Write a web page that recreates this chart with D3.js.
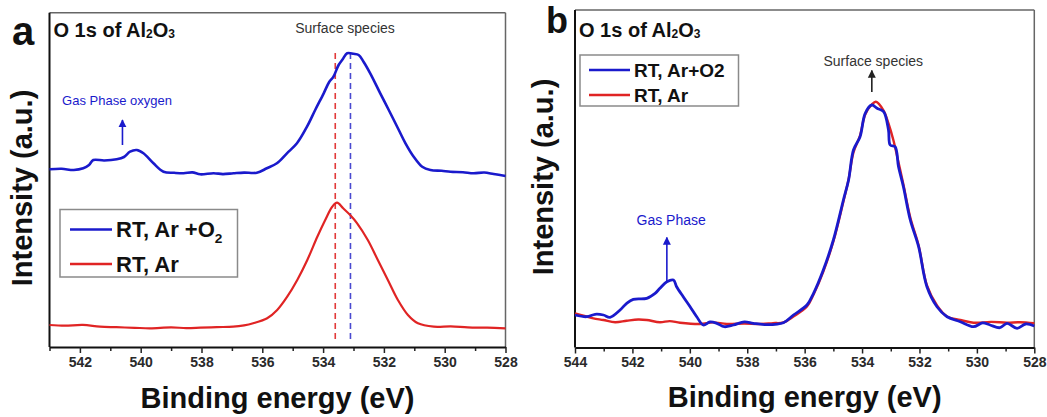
<!DOCTYPE html>
<html>
<head>
<meta charset="utf-8">
<script src="https://cdn.jsdelivr.net/npm/d3@7"></script>
<style>
  body { margin: 0; background: #fff; }
  svg text { font-family: "Liberation Sans", Arial, sans-serif; }
</style>
</head>
<body>
<svg id="chart" width="1047" height="417"></svg>
<script>
// O 1s XPS of Al2O3, two panels. Intensities are arbitrary units.

// panel a: Ar + O2 (offset upward)
var aBlueE = [543.0, 542.6, 542.2, 541.89, 541.7, 541.56, 541.2, 540.79, 540.55, 540.35, 540.13, 539.91, 539.58, 539.25,
              538.9, 538.59, 538.3, 538.04, 537.6, 537.3, 536.95, 536.6, 536.18, 535.85, 535.52, 535.19, 534.86,
              534.53, 534.26, 533.98, 533.8, 533.66, 533.49, 533.35, 533.21, 533.0, 532.83, 532.67, 532.45, 532.12,
              531.84, 531.51, 531.29, 531.02, 530.74, 530.47, 530.1, 529.81, 529.4, 529.05, 528.7, 528.39, 528.0];
var aBlueI = [177.7, 178.2, 177.0, 178.7, 182, 187, 186.5, 187.7, 190, 195.3, 197, 193.7, 183.7, 175.3,
              174.2, 173.7, 174.6, 172.7, 173.8, 172.9, 173.7, 174.4, 174.3, 178.7, 183.7, 193.7, 203.7,
              220.3, 237, 253.7, 265, 270.3, 282, 288, 293.7, 293.2, 292, 285.3, 273.7, 253.7,
              237, 217, 203.7, 190.3, 180.3, 177, 176.2, 175.3, 174.8, 173.7, 174.5, 173, 171];

// panel a: Ar only
var aRedE = [543.0, 542.5, 541.9, 541.34, 540.8, 540.2, 539.69, 539.0, 538.5, 538.04, 537.5, 536.96, 536.6, 536.30,
             535.84, 535.51, 535.18, 534.85, 534.52, 534.19, 533.93, 533.70, 533.54, 533.34, 533.11, 532.88,
             532.53, 532.20, 531.87, 531.54, 531.21, 530.88, 530.36, 529.8, 529.24, 528.6, 528.0];
var aRedI = [22, 21.3, 22.1, 20.3, 19.8, 19.2, 18.7, 19.6, 18.9, 19.3, 19.9, 20.3, 21.6, 23.7,
             28.7, 37, 50.3, 67, 87, 110.3, 127, 140.3, 144.3, 138.7, 132, 123.7,
             107, 87, 67, 47, 32, 23.7, 20.3, 20.6, 19.7, 19.3, 18.7];

// panel b: Ar + O2
var bBlueE = [544.0, 543.59, 543.3, 543.01, 542.78, 542.43, 542.20, 541.97, 541.50, 541.21, 541.04, 540.80, 540.57,
              540.46, 540.23, 539.99, 539.76, 539.53, 539.3, 539.06, 538.8, 538.48, 538.1, 537.79, 537.3, 536.74,
              536.39, 535.92, 535.69, 535.35, 535.00, 534.65, 534.47, 534.30, 534.07, 533.89, 533.66, 533.48,
              533.25, 533.08, 533.02, 532.85, 532.73, 532.56, 532.32, 532.03, 531.74, 531.39, 531.04, 530.58,
              530.12, 529.8, 529.54, 529.2, 528.95, 528.60, 528.3, 528.0];
var bBlueI = [32.5, 30.8, 33.2, 32.5, 30.2, 37.5, 44.2, 48.2, 49.2, 54.2, 59.2, 65.8, 67.5,
              60.8, 50.8, 40.8, 30.8, 22.5, 25.5, 24.2, 20.8, 22.5, 25.6, 24.2, 22.8, 24.8,
              32.5, 42.5, 54.2, 77.5, 107.5, 147.5, 167.5, 197.5, 210.8, 234.2, 242.5, 239.2,
              235.8, 217.5, 202.5, 200.8, 180.8, 160.8, 127.5, 100.8, 60.8, 40.8, 30.8, 25.8,
              20.8, 24.6, 22.5, 19.8, 24.2, 19.2, 23.5, 21.5];

// panel b: Ar only
var bRedE = [544.0, 543.6, 543.36, 543.01, 542.6, 542.20, 541.8, 541.50, 541.04, 540.7, 540.34, 539.64, 539.2, 538.71,
             538.1, 537.55, 537.1, 536.74, 536.39, 535.92, 535.69, 535.35, 535.00, 534.65, 534.47, 534.30, 534.07,
             533.89, 533.66, 533.52, 533.25, 533.08, 532.91, 532.73, 532.56, 532.32, 532.03, 531.74, 531.39,
             531.04, 530.58, 530.12, 529.5, 528.95, 528.5, 528.0];
var bRedI = [34.2, 31.0, 29.2, 27.5, 25.3, 26.8, 28.0, 27.5, 25.2, 26.4, 24.8, 23.5, 25.1, 23.5,
             24.0, 23.5, 24.4, 25, 31, 41, 53, 76, 106, 146, 168, 195, 212,
             233, 243, 245.8, 237, 224, 207.5, 185, 163, 130, 102, 62, 42,
             31, 27.5, 24.8, 25.6, 24.8, 25.3, 24.2];

var xTicksA = [542, 540, 538, 536, 534, 532, 530, 528];
var xTicksB = [544, 542, 540, 538, 536, 534, 532, 530, 528];
var legendA = ["RT, Ar +O", "RT, Ar"];
var legendB = ["RT, Ar+O2", "RT, Ar"];
var dashA = [533.6, 533.1];   // red / blue peak positions in panel a

var BLUE = "#1a1acc", RED = "#e02424";
var svg = d3.select("#chart");

var defs = svg.append("defs");
[["arrBlue", BLUE], ["arrBlack", "#222"]].forEach(function (m) {
  defs.append("marker").attr("id", m[0]).attr("viewBox", "0 0 10 10")
    .attr("refX", 9).attr("refY", 5).attr("markerWidth", 5).attr("markerHeight", 6)
    .attr("orient", "auto")
    .append("path").attr("d", "M0,0 L10,5 L0,10 z").attr("fill", m[1]);
});

function series(e, i) { return e.map(function (d, k) { return [d, i[k]]; }); }

function drawPanel(p) {
  var x = d3.scaleLinear().domain(p.xDomain).range([p.left, p.right]);
  var y = d3.scaleLinear().domain(p.yDomain).range([p.bottom, p.top]);
  var g = svg.append("g");

  // frame: top/right gray, left/bottom black
  g.append("line").attr("x1", p.left).attr("x2", p.right).attr("y1", p.top).attr("y2", p.top)
    .attr("stroke", "#666").attr("stroke-width", 1.5);
  g.append("line").attr("x1", p.right).attr("x2", p.right).attr("y1", p.top).attr("y2", p.bottom)
    .attr("stroke", "#666").attr("stroke-width", 1.5);

  // minor ticks
  var minor = d3.range(Math.ceil(p.xDomain[1]), Math.floor(p.xDomain[0]) + 1)
    .filter(function (v) { return v % 2 !== 0; });
  var gm = g.append("g").attr("transform", "translate(0," + p.bottom + ")")
    .call(d3.axisBottom(x).tickValues(minor).tickSize(4).tickFormat(""));
  gm.select(".domain").remove();
  gm.selectAll("line").attr("stroke", "#222").attr("stroke-width", 1.5);

  var gx = g.append("g").attr("transform", "translate(0," + p.bottom + ")")
    .call(d3.axisBottom(x).tickValues(p.ticks).tickSize(6).tickSizeOuter(0).tickPadding(4).tickFormat(d3.format("d")));
  gx.select(".domain").attr("stroke", "#111").attr("stroke-width", 2);
  gx.selectAll("line").attr("stroke", "#222").attr("stroke-width", 1.5);
  gx.selectAll("text").attr("font-size", 14).attr("font-weight", "bold").attr("fill", "#2a2a2a");

  g.append("line").attr("x1", p.left).attr("x2", p.left).attr("y1", p.top).attr("y2", p.bottom)
    .attr("stroke", "#111").attr("stroke-width", 2);

  // dashed peak markers
  (p.dashes || []).forEach(function (d) {
    g.append("line").attr("x1", x(d.e)).attr("x2", x(d.e)).attr("y1", y(d.from)).attr("y2", y(d.to))
      .attr("stroke", d.color).attr("stroke-width", 1.6).attr("stroke-dasharray", "6,4");
  });

  var line = d3.line().x(function (d) { return x(d[0]); }).y(function (d) { return y(d[1]); })
    .curve(d3.curveCatmullRom.alpha(0.5));
  p.lines.forEach(function (s) {
    g.append("path").datum(s.data).attr("d", line).attr("fill", "none")
      .attr("stroke", s.color).attr("stroke-width", s.width).attr("stroke-linejoin", "round");
  });

  // annotations
  p.notes.forEach(function (n) {
    g.append("text").attr("x", x(n.e)).attr("y", y(n.i)).attr("text-anchor", "middle")
      .attr("font-size", n.size).attr("fill", n.color).text(n.text);
  });
  p.arrows.forEach(function (a) {
    g.append("line").attr("x1", x(a.e)).attr("x2", x(a.e)).attr("y1", y(a.from)).attr("y2", y(a.to))
      .attr("stroke", a.color).attr("stroke-width", 1.6).attr("marker-end", "url(#" + a.marker + ")");
  });

  // panel title with subscripts
  var t = g.append("text").attr("x", p.left + 4).attr("y", p.top + p.titleDy)
    .attr("font-size", 20).attr("font-weight", "bold").attr("fill", "#111");
  t.append("tspan").text("O 1s of Al");
  t.append("tspan").attr("font-size", 12).attr("dy", 1).text("2");
  t.append("tspan").attr("dy", -1).text("O");
  t.append("tspan").attr("font-size", 12).attr("dy", 1).text("3");

  // panel letter
  g.append("text").attr("x", p.letterX).attr("y", p.letterY).attr("font-size", p.letterSize)
    .attr("font-weight", "bold").attr("fill", "#111").text(p.letter);

  // legend
  var L = p.legend;
  g.append("rect").attr("x", L.x).attr("y", L.y).attr("width", L.w).attr("height", L.h)
    .attr("fill", "#fff").attr("stroke", "#8a8a8a").attr("stroke-width", 1.5);
  L.items.forEach(function (it, k) {
    var yy = L.y + L.row0 + k * L.step;
    g.append("line").attr("x1", L.x + L.lx0).attr("x2", L.x + L.lx1).attr("y1", yy).attr("y2", yy)
      .attr("stroke", it.color).attr("stroke-width", 2.5);
    var tx = g.append("text").attr("x", L.x + L.lx1 + 4).attr("y", yy + L.size * 0.36)
      .attr("font-size", L.size).attr("font-weight", "bold").attr("fill", "#111");
    tx.append("tspan").text(it.label);
    if (it.sub) tx.append("tspan").attr("font-size", L.size * 0.62).attr("dy", 6).text(it.sub);
  });

  // axis titles
  g.append("text").attr("transform", "translate(" + p.yTitleX + "," + p.yTitleY + ") rotate(-90)")
    .attr("text-anchor", "middle").attr("font-size", 29).attr("font-weight", "bold").attr("fill", "#111")
    .text("Intensity (a.u.)");
  g.append("text").attr("x", (p.left + p.right) / 2).attr("y", p.xTitleY)
    .attr("text-anchor", "middle").attr("font-size", 29).attr("font-weight", "bold").attr("fill", "#111")
    .text("Binding energy (eV)");
}

drawPanel({
  xDomain: [543, 528], yDomain: [0, 334.3], left: 49.5, right: 505.5, top: 12.7, bottom: 347,
  ticks: xTicksA, titleDy: 24, letter: "a", letterX: 12, letterY: 45, letterSize: 40,
  lines: [{ data: series(aRedE, aRedI), color: RED, width: 2.2 },
          { data: series(aBlueE, aBlueI), color: BLUE, width: 2.6 }],
  dashes: [{ e: dashA[0], from: 294, to: 5, color: "#e23a3a" },
           { e: dashA[1], from: 294, to: 5, color: "#4a4ad0" }],
  notes: [{ e: 533.28, i: 314, text: "Surface species", size: 14, color: "#333" },
          { e: 540.78, i: 242, text: "Gas Phase oxygen", size: 13, color: BLUE }],
  arrows: [{ e: 540.6, from: 202, to: 227, color: BLUE, marker: "arrBlue" }],
  legend: { x: 60, y: 209.5, w: 177.5, h: 67.5, row0: 20, step: 34.5, lx0: 10, lx1: 52, size: 22,
            items: [{ label: legendA[0], sub: "2", color: BLUE }, { label: legendA[1], color: RED }] },
  yTitleX: 32, yTitleY: 188, xTitleY: 408
});

drawPanel({
  xDomain: [544, 528], yDomain: [0, 337.5], left: 575, right: 1034.3, top: 10, bottom: 347.5,
  ticks: xTicksB, titleDy: 27, letter: "b", letterX: 546, letterY: 33, letterSize: 36,
  lines: [{ data: series(bRedE, bRedI), color: RED, width: 2.4 },
          { data: series(bBlueE, bBlueI), color: BLUE, width: 2.8 }],
  dashes: [],
  notes: [{ e: 533.61, i: 281.5, text: "Surface species", size: 14, color: "#333" },
          { e: 540.65, i: 122.5, text: "Gas Phase", size: 14, color: BLUE }],
  arrows: [{ e: 533.66, from: 255.5, to: 277, color: "#222", marker: "arrBlack" },
           { e: 540.80, from: 65.5, to: 110, color: BLUE, marker: "arrBlue" }],
  legend: { x: 580, y: 55, w: 158.5, h: 51, row0: 15, step: 25, lx0: 9, lx1: 50, size: 19,
            items: [{ label: legendB[0], color: BLUE }, { label: legendB[1], color: RED }] },
  yTitleX: 553, yTitleY: 177, xTitleY: 407
});
</script>
</body>
</html>
